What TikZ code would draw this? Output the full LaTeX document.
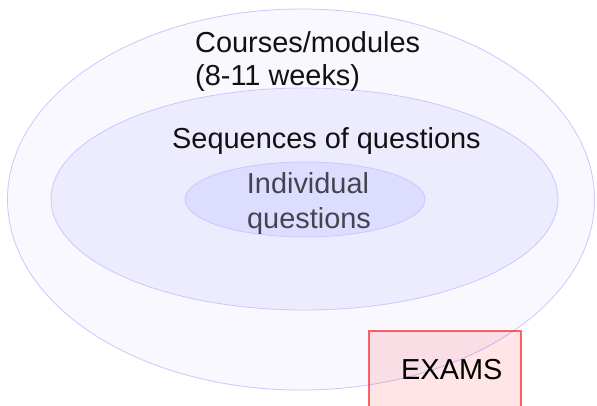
\documentclass[tikz,border=0pt]{standalone}
\usepackage{fontspec}
\setmainfont{Liberation Sans}
\definecolor{ringline}{RGB}{200,200,255}
\definecolor{outerfill}{RGB}{249,248,255}
\definecolor{midfill}{RGB}{237,236,255}
\definecolor{innerfill}{RGB}{221,221,255}
\definecolor{graytext}{RGB}{68,68,80}
\definecolor{maintext}{RGB}{17,17,17}
\begin{document}
\begin{tikzpicture}[x=1pt,y=-1pt,
  ring/.style={draw=ringline,line width=0.8pt},
  lbl/.style={inner sep=0pt,font=\fontsize{28.9}{33}\selectfont,text=maintext},
  graylbl/.style={lbl,text=graytext},
  examsbox/.style={draw=red,draw opacity=0.6,fill=red,fill opacity=0.1,line width=1.2pt}]
\clip (0,0) rectangle (597,405);
\fill[white] (0,0) rectangle (597,405);
\path[ring,fill=outerfill] (301,199.5) ellipse [x radius=293.5,y radius=190.5];
\path[ring,fill=midfill] (304.5,199) ellipse [x radius=253.5,y radius=111];
\path[ring,fill=innerfill] (305,199.5) ellipse [x radius=120,y radius=37.5];
\node[lbl,anchor=base west] (courses) at (195,52) {Courses/modules};
\node[lbl,anchor=base west] (weeks) at (195,85) {(8-11 weeks)};
\node[lbl,anchor=base west] (seq) at (172,148) {Sequences of questions};
\node[graylbl,anchor=base] (indiv) at (308,193) {Individual};
\node[graylbl,anchor=base] (quest) at (309,228) {questions};
\path[examsbox] (369,331) rectangle (521,420);
\node[lbl,anchor=base west,text=black] (exams) at (401,379) {EXAMS};
\end{tikzpicture}
\end{document}
